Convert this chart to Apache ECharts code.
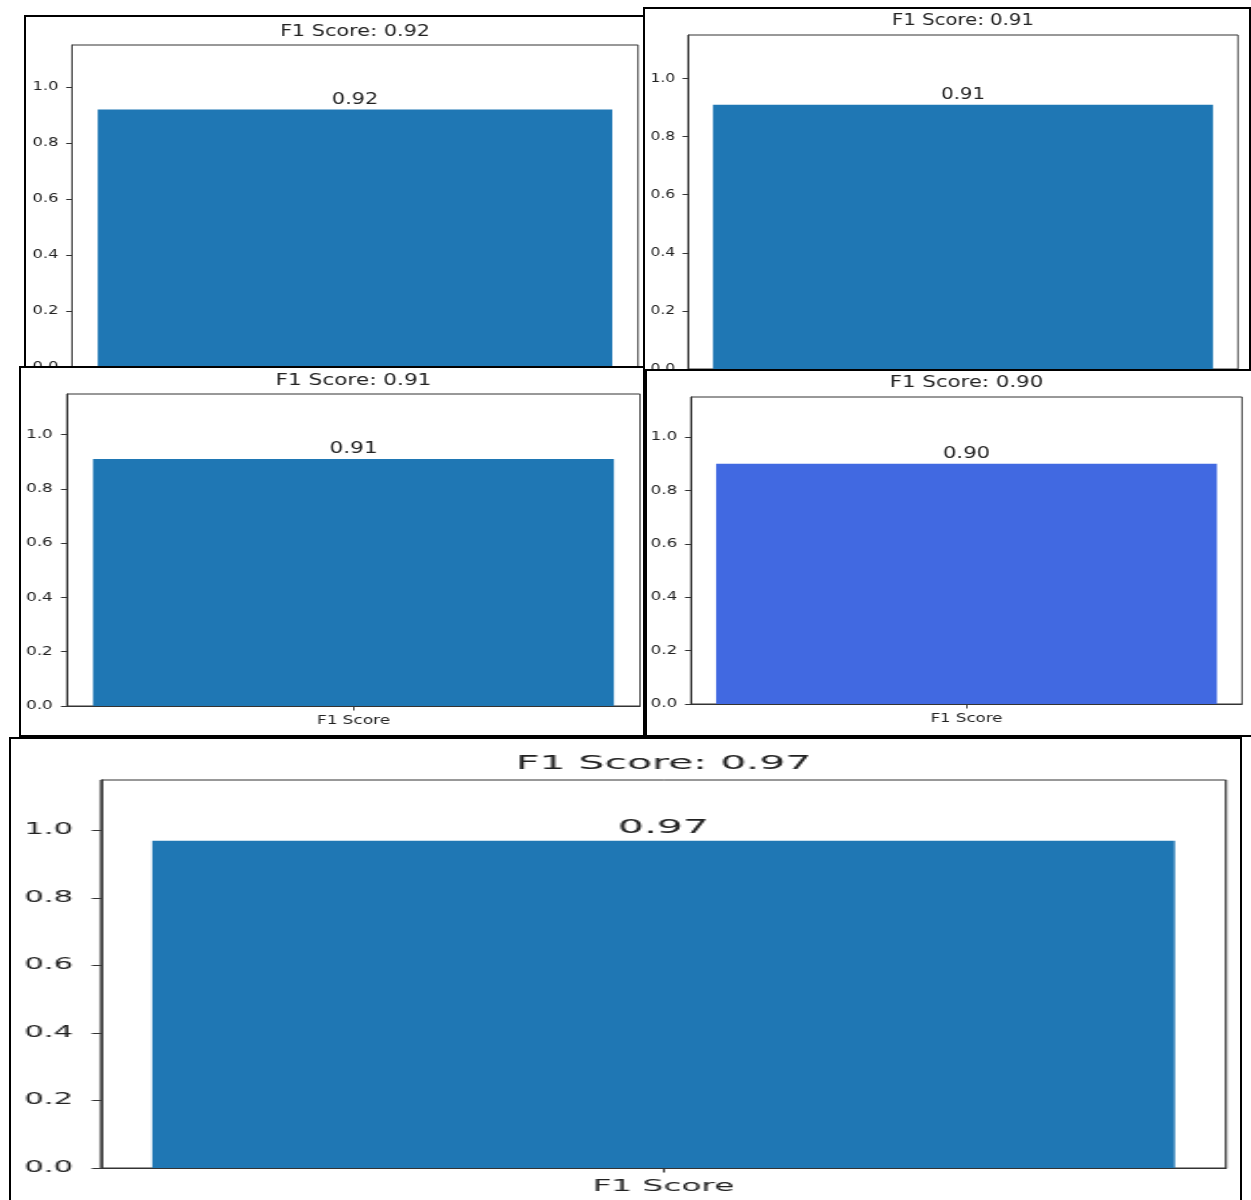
<!DOCTYPE html>
<html>
<head>
<meta charset="utf-8">
<script src="https://cdn.jsdelivr.net/npm/echarts@6/dist/echarts.min.js"></script>
<style>
  html, body { margin: 0; padding: 0; background: #ffffff; }
  body { width: 1251px; height: 1200px; position: relative; overflow: hidden; }
  .panel { position: absolute; box-sizing: border-box; border: 2px solid #000; background: #fff; overflow: hidden; }
  .chart { position: absolute; left: 0; top: 0; transform-origin: 0 0; }
</style>
</head>
<body>
<script>
// ---- data ----
const categories = ['F1 Score'];
const f1Values = [0.92, 0.91, 0.91, 0.90, 0.97];
const titlePrefix = 'F1 Score: ';
const yTicks = [0, 0.2, 0.4, 0.6, 0.8, 1.0];
const yMin = 0;
const yMax = 1.15;

// ---- layout / style (page pixels) ----
const panels = [
  { box: [24, 15, 640, 372], plot: [72, 45, 638, 367], titleY: 30, labelY: 382, sx: 1.30, color: '#1f77b4', fs: { title: 16, value: 16, tick: 12.5, x: 12.5 }, tickLen: 4.5, labMargin: 10.5, vDist: 2 },
  { box: [643, 7, 608, 370], plot: [688, 35, 1238, 369], titleY: 19, labelY: 384, sx: 1.23, color: '#1f77b4', fs: { title: 16, value: 16, tick: 12.5, x: 12.5 }, tickLen: 4.5, labMargin: 10.5, vDist: 2 },
  { box: [19, 366, 626, 371], plot: [67, 394, 640, 706], titleY: 379, labelY: 721, sx: 1.35, color: '#1f77b4', fs: { title: 16, value: 16, tick: 12.5, x: 12.5 }, tickLen: 4.5, labMargin: 10.5, vDist: 2 },
  { box: [645, 369, 612, 368], plot: [691, 397, 1242, 704], titleY: 381, labelY: 719, sx: 1.33, color: '#4169e1', fs: { title: 16, value: 16, tick: 12.5, x: 12.5 }, tickLen: 4.5, labMargin: 10.5, vDist: 2 },
  { box: [9, 737, 1233, 480], plot: [101, 780, 1226, 1168], titleY: 761, labelY: 1188, sx: 2.05, color: '#1f77b4', fs: { title: 20, value: 20, tick: 15, x: 16 }, tickLen: 4.5, labMargin: 13.5, vDist: 3 }
];

const FONT = 'DejaVu Sans';
const TXT = '#222';

panels.forEach(function (p, i) {
  const [bx, by, bw, bh] = p.box;
  const cx = bx + 2, cy = by + 2, cw = bw - 4, ch = bh - 4;
  const outer = document.createElement('div');
  outer.className = 'panel';
  outer.style.left = bx + 'px';
  outer.style.top = by + 'px';
  outer.style.width = bw + 'px';
  outer.style.height = bh + 'px';
  const inner = document.createElement('div');
  inner.className = 'chart';
  inner.style.width = (cw / p.sx) + 'px';
  inner.style.height = ch + 'px';
  inner.style.transform = 'scaleX(' + p.sx + ')';
  outer.appendChild(inner);
  document.body.appendChild(outer);

  const [pl, pt, pr, pb] = p.plot;
  const gLeft = (pl - cx) / p.sx;
  const gWidth = (pr - pl) / p.sx;
  const gTop = pt - cy;
  const gHeight = pb - pt;
  const v = f1Values[i];

  const chart = echarts.init(inner, null, { renderer: 'canvas' });
  chart.setOption({
    animation: false,
    backgroundColor: '#ffffff',
    title: {
      text: titlePrefix + v.toFixed(2),
      left: ((pl + pr) / 2 - cx) / p.sx,
      textAlign: 'center',
      top: p.titleY - cy - p.fs.title * 0.38,
      padding: 0,
      textStyle: { fontFamily: FONT, fontSize: p.fs.title, fontWeight: 'normal', color: TXT }
    },
    grid: {
      left: gLeft, top: gTop, width: gWidth, height: gHeight,
      show: true, borderColor: '#333', borderWidth: 1, backgroundColor: 'transparent',
      containLabel: false,
      outerBoundsMode: 'none'
    },
    xAxis: {
      type: 'category',
      data: categories,
      boundaryGap: true,
      axisLine: { show: true, lineStyle: { color: '#333', width: 1 } },
      axisTick: { show: true, alignWithLabel: true, length: p.tickLen, lineStyle: { color: '#333' } },
      axisLabel: {
        fontFamily: FONT, fontSize: p.fs.x, color: TXT,
        margin: p.labelY - pb - p.fs.x * 0.55
      },
      splitLine: { show: false }
    },
    yAxis: {
      type: 'value',
      min: yMin,
      max: yMax,
      interval: 0.2,
      axisLine: { show: true, lineStyle: { color: '#333', width: 1 } },
      axisTick: { show: true, length: p.tickLen, lineStyle: { color: '#333' }, customValues: yTicks },
      axisLabel: {
        fontFamily: FONT, fontSize: p.fs.tick, color: TXT,
        margin: p.labMargin,
        customValues: yTicks,
        formatter: function (val) { return Number(val).toFixed(1); }
      },
      splitLine: { show: false }
    },
    series: [{
      type: 'bar',
      data: [v],
      barWidth: '90.9%',
      itemStyle: { color: p.color },
      label: {
        show: true,
        position: 'top',
        distance: p.vDist,
        formatter: function (d) { return Number(d.value).toFixed(2); },
        fontFamily: FONT, fontSize: p.fs.value, color: TXT
      }
    }]
  });
});
</script>
</body>
</html>
